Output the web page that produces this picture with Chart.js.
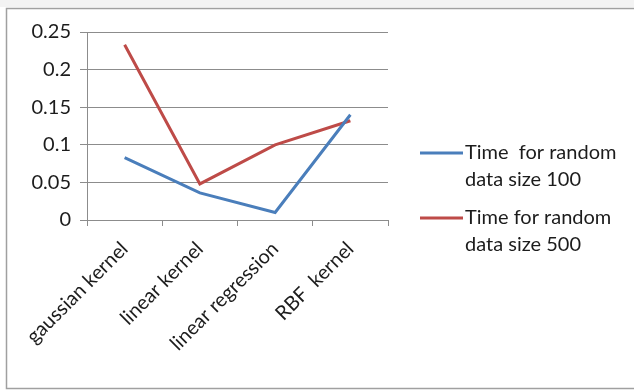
<!DOCTYPE html>
<html>
<head>
<meta charset="utf-8">
<script src="https://cdn.jsdelivr.net/npm/chart.js@4/dist/chart.umd.min.js"></script>
<style>
  html, body { margin: 0; padding: 0; background: #ffffff; }
  #wrap { position: relative; width: 634px; height: 391px; }
  canvas { display: block; }
</style>
</head>
<body>
<div id="wrap"><canvas id="c" width="634" height="391"></canvas></div>
<script>
// Methods compared on the x axis
const categories = ['gaussian kernel', 'linear kernel', 'linear regression', 'RBF  kernel'];

// Run times for each data size
const time100 = [0.083, 0.036, 0.010, 0.140];
const time500 = [0.233, 0.048, 0.100, 0.132];

// Series names, split over two lines in the legend
const seriesNames = ['Time  for random data size 100', 'Time for random data size 500'];
const legendLines = [['Time  for random', 'data size 100'], ['Time for random', 'data size 500']];

// Y axis range
const yMin = 0, yMax = 0.25, yStep = 0.05;

const FONT = 'Lato, "Open Sans", sans-serif';
const BLUE = '#4a7ebb';
const RED = '#be4b48';
const GRID = '#8c8c8c';
const TEXT = '#1c1c1c';

// Outer frame around the chart object
const framePlugin = {
  id: 'frame',
  beforeDraw(chart) {
    const ctx = chart.ctx;
    ctx.save();
    ctx.fillStyle = '#f3f3f3';
    ctx.fillRect(0, 0, 634, 7);
    ctx.fillStyle = '#ffffff';
    ctx.fillRect(6, 8, 640, 381);
    ctx.strokeStyle = '#a0a0a0';
    ctx.lineWidth = 1.5;
    ctx.strokeRect(6.5, 8.5, 700, 380);
    ctx.restore();
  }
};

// Two-line legend to the right of the plot
const sideLegend = {
  id: 'sideLegend',
  afterDraw(chart) {
    const ctx = chart.ctx;
    const rows = [153, 218];
    ctx.save();
    chart.data.datasets.forEach((ds, i) => {
      const y = rows[i];
      ctx.strokeStyle = ds.borderColor;
      ctx.lineWidth = 3;
      ctx.beginPath();
      ctx.moveTo(420, y);
      ctx.lineTo(463, y);
      ctx.stroke();
      ctx.fillStyle = TEXT;
      ctx.font = '20px ' + FONT;
      ctx.textBaseline = 'middle';
      ctx.textAlign = 'left';
      legendLines[i].forEach((line, k) => {
        ctx.fillText(line, 465, y + k * 27);
      });
    });
    ctx.restore();
  }
};

new Chart(document.getElementById('c'), {
  type: 'line',
  data: {
    labels: categories,
    datasets: [
      { label: seriesNames[0], data: time100, borderColor: BLUE, backgroundColor: BLUE,
        borderWidth: 3, pointRadius: 0, tension: 0, fill: false },
      { label: seriesNames[1], data: time500, borderColor: RED, backgroundColor: RED,
        borderWidth: 3, pointRadius: 0, tension: 0, fill: false }
    ]
  },
  options: {
    responsive: false,
    animation: false,
    devicePixelRatio: 1,
    layout: { padding: { left: 8, right: 246, top: 32, bottom: 0 } },
    plugins: {
      legend: { display: false },
      tooltip: { enabled: false },
      title: { display: false }
    },
    scales: {
      x: {
        offset: true,
        grid: { offset: true, drawOnChartArea: false, drawTicks: true, tickLength: 6, color: GRID },
        border: { display: true, color: GRID, width: 1 },
        ticks: {
          color: TEXT,
          font: { family: FONT, size: 20 },
          minRotation: 45, maxRotation: 45,
          padding: 11,
          autoSkip: false
        },
        afterFit(scale) { scale.height = 171; }
      },
      y: {
        min: yMin, max: yMax,
        grid: { color: GRID, drawTicks: true, tickLength: 7, lineWidth: 1 },
        border: { display: true, color: GRID, width: 1 },
        ticks: {
          stepSize: yStep,
          color: TEXT,
          font: { family: FONT, size: 20 },
          padding: 9,
          callback: v => String(Math.round(v * 100) / 100)
        },
        afterFit(scale) { scale.width = 79; }
      }
    }
  },
  plugins: [framePlugin, sideLegend]
});
</script>
</body>
</html>
